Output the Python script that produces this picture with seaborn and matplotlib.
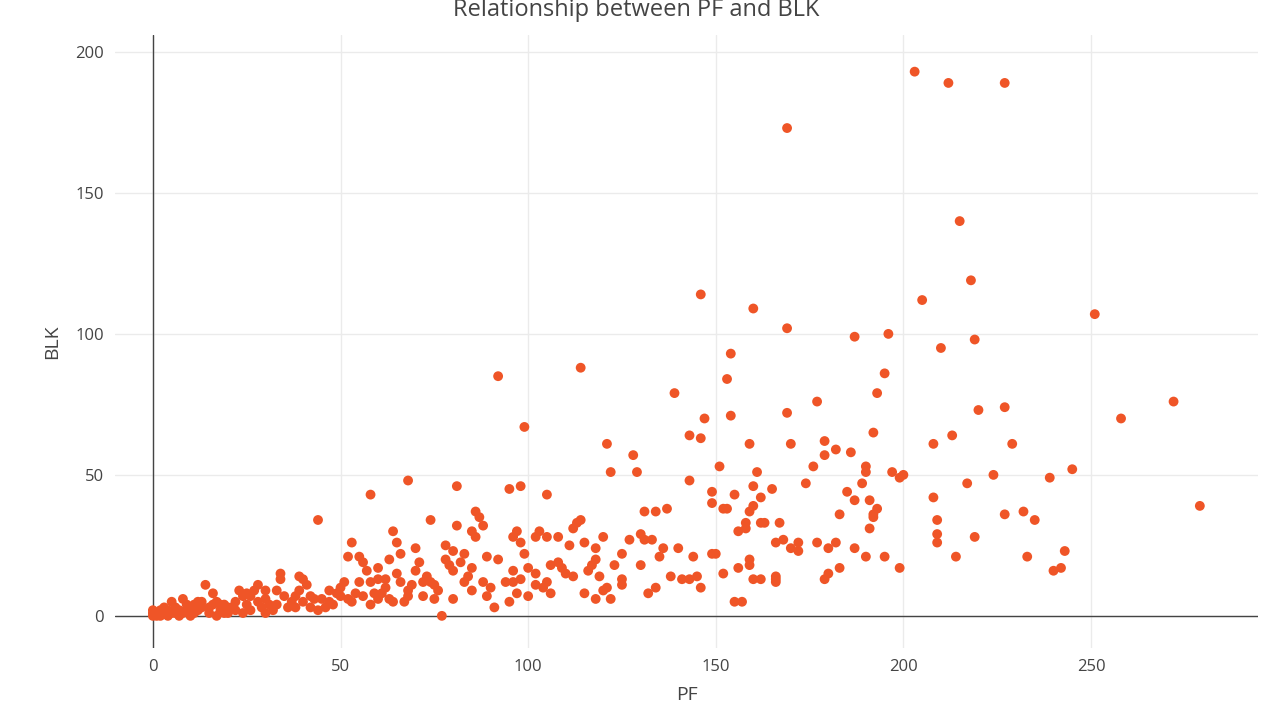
import matplotlib
matplotlib.use("Agg")
import matplotlib.pyplot as plt
import seaborn as sns
import pandas as pd

pts = [(203,193),(212,189),(227,189),(169,173),(215,140),(218,119),(146,114),(160,109),(205,112),(251,107),(169,102),(196,100),(187,99),(219,98),(210,95),(154,93),(195,86),(92,85),(114,88),(153,84),(139,79),(193,79),(272,76),(177,76),(220,73),(227,74),(169,72),(154,71),(147,70),(258,70),(99,67),(143,64),(146,63),(213,64),(192,65),(121,61),(159,61),(170,61),(208,61),(229,61),(179,62),(182,59),(186,58),(128,57),(179,57),(176,53),(190,53),(151,53),(122,51),(129,51),(161,51),(197,51),(199,49),(200,50),(224,50),(239,49),(245,52),(190,51),(143,48),(68,48),(174,47),(189,47),(217,47),(58,43),(105,43),(155,43),(185,44),(149,44),(208,42),(162,42),(187,41),(191,41),(279,39),(95,45),(98,46),(81,46),(160,39),(149,40),(232,37),(235,34),(227,36),(193,38),(159,37),(131,37),(134,37),(137,38),(44,34),(74,34),(167,33),(162,33),(153,38),(183,36),(209,34),(192,35),(240,16),(242,17),(243,23),(233,21),(214,21),(219,28),(209,26),(209,29),(199,17),(195,21),(190,21),(187,24),(180,15),(183,17),(179,13),(166,12),(166,13),(166,14),(157,5),(155,5),(152,15),(160,13),(162,13),(172,23),(170,24),(166,26),(168,27),(172,26),(177,26),(180,24),(182,26),(191,31),(192,36),(159,20),(159,18),(156,17),(156,30),(158,31),(158,33),(163,33),(165,45),(160,46),(152,38),(150,22),(149,22),(144,21),(145,14),(146,10),(143,13),(141,13),(138,14),(140,24),(136,24),(135,21),(133,27),(131,27),(134,10),(132,8),(125,22),(123,18),(125,11),(121,10),(122,6),(118,6),(119,14),(118,24),(120,28),(118,20),(117,18),(114,34),(112,31),(113,33),(115,26),(111,25),(108,28),(108,19),(105,28),(103,30),(102,28),(106,8),(104,10),(102,11),(102,15),(100,17),(98,13),(97,8),(96,12),(96,16),(94,12),(98,26),(96,28),(97,30),(99,22),(92,20),(91,3),(89,7),(88,12),(89,21),(88,32),(87,35),(86,37),(86,28),(85,30),(84,14),(83,12),(82,19),(80,16),(79,18),(80,23),(81,32),(78,20),(78,25),(76,9),(74,12),(73,14),(75,6),(77,0),(72,12),(71,19),(70,24),(69,11),(68,7),(67,5),(66,12),(66,22),(65,26),(64,30),(63,20),(63,6),(62,13),(61,8),(60,13),(60,17),(59,8),(58,12),(57,16),(56,19),(55,21),(54,8),(53,26),(52,21),(51,12),(50,10),(49,8),(48,4),(47,5),(46,3),(44,2),(43,6),(42,7),(41,11),(40,13),(39,14),(39,9),(38,3),(37,5),(35,7),(34,13),(34,15),(33,9),(32,2),(31,4),(30,6),(29,3),(28,11),(27,9),(26,7),(25,4),(24,7),(23,9),(22,5),(21,3),(20,1),(19,4),(18,2),(17,5),(16,8),(15,3),(14,11),(13,5),(12,2),(11,1),(10,3),(9,4),(8,6),(7,2),(6,1),(5,5),(4,0),(3,1),(2,2),(1,0),(0,0),(0,1),(0,2),(1,1),(2,0),(3,3),(4,2),(5,1),(6,3),(7,0),(8,1),(9,2),(10,0),(11,4),(12,5),(13,3),(15,1),(17,0),(18,4),(20,3),(22,2),(24,1),(26,2),(28,5),(30,1),(33,4),(36,3),(40,5),(42,3),(45,6),(50,7),(53,5),(56,7),(60,6),(64,5),(68,9),(72,7),(75,11),(80,6),(85,9),(90,10),(95,5),(100,7),(105,12),(110,15),(115,8),(120,9),(125,13),(130,18),(106,18),(109,17),(112,14),(116,16),(127,27),(130,29),(85,17),(83,22),(70,16),(65,15),(58,4),(62,10),(47,9),(55,12),(52,6),(38,7),(30,9),(25,8),(16,4),(19,1)]
pf = [p[0] for p in pts]
blk = [p[1] for p in pts]
df = pd.DataFrame({"PF": pf, "BLK": blk})

sns.set_theme(style="white")
plt.rcParams['font.family'] = ['Open Sans', 'DejaVu Sans']
fig = plt.figure(figsize=(12.72, 7.11), dpi=100)
ax = fig.add_axes([115/1272, 1-648/711, (1258-115)/1272, (648-35)/711])
ax.grid(True, color="#EBEBEB", lw=1)
ax.set_axisbelow(True)
sns.scatterplot(data=df, x="PF", y="BLK", ax=ax, color="#EF5527", s=50, edgecolor="none", zorder=3)
ax.axhline(0, color="#444", lw=1, zorder=2)
ax.axvline(0, color="#444", lw=1, zorder=2)
ax.set_xlim(-10.1, 294.5)
ax.set_ylim(-11.4, 206)
ax.set_xticks([0, 50, 100, 150, 200, 250])
ax.set_yticks([0, 50, 100, 150, 200])
for s in ax.spines.values():
    s.set_visible(False)
ax.tick_params(length=0, labelsize=12, colors="#444", pad=8)
ax.set_xlabel("PF", fontsize=14, color="#444", labelpad=8)
ax.set_ylabel("BLK", fontsize=14, color="#444", labelpad=10)
fig.text(0.5, 1-10/711, "Relationship between PF and BLK", ha="center", va="center", fontsize=17, color="#444")
fig.savefig("out.png", dpi=100)
